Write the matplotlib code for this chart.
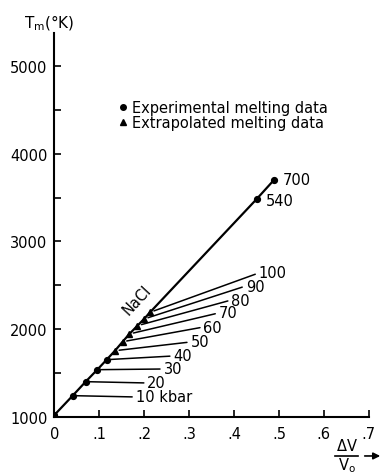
import matplotlib
matplotlib.use("Agg")
import matplotlib.pyplot as plt

# Courbe de fusion de NaCl : T_m en fonction de la compression relative
dv_v0 = [0.0, 0.0408, 0.0697, 0.0955, 0.1165, 0.135, 0.152, 0.167, 0.185, 0.1996, 0.213, 0.4506, 0.489]
tm_k = [1028, 1248, 1407, 1543, 1657, 1759, 1861, 1949, 2043, 2119, 2195, 3483, 3699]
pression = ["", "10 kbar", "20", "30", "40", "50", "60", "70", "80", "90", "100", "540", "700"]
# points experimentaux (o) ou extrapoles (^)
type_point = ["exp", "exp", "exp", "exp", "exp", "ext", "ext", "ext", "ext", "ext", "ext", "exp", "exp"]

# position des etiquettes de pression (bas de la courbe)
label_x = [None, 0.181, 0.207, 0.243, 0.265, 0.303, 0.332, 0.366, 0.394, 0.426, 0.455]
label_t = [None, 1233, 1392, 1551, 1699, 1858, 2028, 2188, 2335, 2494, 2642]

x_ticks = [0, 0.1, 0.2, 0.3, 0.4, 0.5, 0.6, 0.7]
x_tick_labels = ["0", ".1", ".2", ".3", ".4", ".5", ".6", ".7"]
y_ticks = [1000, 2000, 3000, 4000, 5000]


def tracer_courbe_fusion():
    plt.rcParams["font.family"] = ["DejaVu Sans"]
    fig = plt.figure(figsize=(3.83, 4.77), dpi=100)
    ax = fig.add_axes([0.142, 0.1227, 0.8206, 0.807])

    ax.plot(dv_v0, tm_k, color="black", lw=1.6, zorder=2)
    for x, t, kind in zip(dv_v0, tm_k, type_point):
        if kind == "exp":
            ax.plot(x, t, "o", color="black", ms=4.2, zorder=3)
        else:
            ax.plot(x, t, "^", color="black", ms=5, zorder=3)

    # etiquettes reliees aux points par un trait
    for i in range(1, 11):
        ax.annotate(pression[i], xy=(dv_v0[i], tm_k[i]), xytext=(label_x[i], label_t[i]),
                    ha="left", va="center", fontsize=10.5,
                    arrowprops=dict(arrowstyle="-", color="black", lw=1.1,
                                    shrinkA=0.5, shrinkB=3, relpos=(0, 0.5)))

    ax.text(dv_v0[12] + 0.02, tm_k[12], pression[12], ha="left", va="center", fontsize=10.5)
    ax.text(dv_v0[11] + 0.02, tm_k[11] - 20, pression[11], ha="left", va="center", fontsize=10.5)

    ax.text(0.185, 2345, "NaCl", rotation=47, ha="center", va="center", fontsize=10.5)

    # legende
    ax.plot(0.152, 4528, "o", color="black", ms=4)
    ax.plot(0.152, 4358, "^", color="black", ms=4.5)
    ax.text(0.172, 4528, "Experimental melting data", ha="left", va="center", fontsize=10.5)
    ax.text(0.172, 4358, "Extrapolated melting data", ha="left", va="center", fontsize=10.5)

    ax.set_xlim(0, 0.7)
    ax.set_ylim(1000, 5375)
    ax.set_xticks(x_ticks)
    ax.set_xticklabels(x_tick_labels)
    ax.set_yticks(y_ticks)
    ax.set_yticks([1500, 2500, 3500, 4500], minor=True)
    ax.tick_params(axis="both", which="both", direction="in", length=5, width=1.2, labelsize=10.5)
    ax.tick_params(axis="y", pad=5)
    ax.tick_params(axis="x", pad=6)
    for s in ["top", "right"]:
        ax.spines[s].set_visible(False)
    for s in ["left", "bottom"]:
        ax.spines[s].set_linewidth(1.5)

    # titres des axes
    fig.text(0.062, 0.952, r"T$_\mathrm{m}$(°K)", ha="left", va="center", fontsize=11)
    fig.text(0.905, 0.064, r"$\Delta$V", ha="center", va="center", fontsize=10.5)
    fig.text(0.905, 0.024, r"V$_\mathrm{o}$", ha="center", va="center", fontsize=10.5)
    fig.add_artist(plt.Line2D([0.875, 0.935], [0.042, 0.042], color="black", lw=1.2))
    fig.add_artist(matplotlib.patches.FancyArrowPatch((0.945, 0.042), (1.0, 0.042),
                                                      arrowstyle="-|>", mutation_scale=10,
                                                      color="black", lw=1.2))

    fig.savefig("out.png", dpi=100)
    plt.close(fig)


if __name__ == "__main__":
    tracer_courbe_fusion()
